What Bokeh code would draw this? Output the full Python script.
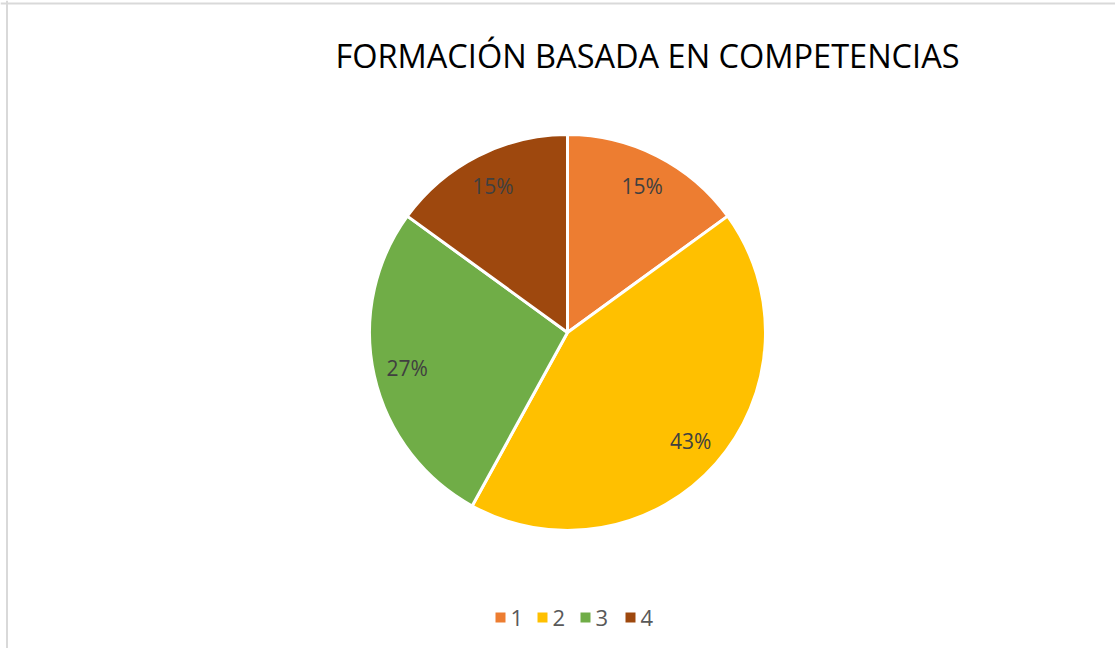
import numpy as np
from bokeh.plotting import figure
from bokeh.models import Span, Range1d
from bokeh.core.properties import value
from bokeh.embed import file_html
from bokeh.resources import INLINE

title = "FORMACIÓN BASADA EN COMPETENCIAS"
categories = ["1", "2", "3", "4"]
values = [15, 43, 27, 15]
colors = ["#ED7D31", "#FFC000", "#70AD47", "#9E480E"]

W, H = 1115, 648
p = figure(width=W, height=H, output_backend="svg", toolbar_location=None,
           x_range=Range1d(0, W), y_range=Range1d(0, H), min_border=0)
p.axis.visible = False
p.grid.visible = False
p.outline_line_color = None
p.background_fill_color = "white"

# border (left and top only visible)
p.add_layout(Span(location=6.5, dimension="height", line_color="#D9D9D9", line_width=2))
p.add_layout(Span(location=H - 3, dimension="width", line_color="#D9D9D9", line_width=2))

cx, cy, r = 567, H - 332, 198
vals = np.array(values, dtype=float)
frac = vals / vals.sum()
cum = np.concatenate([[0], np.cumsum(frac)])
start = np.pi / 2 - cum[:-1] * 2 * np.pi
end = np.pi / 2 - cum[1:] * 2 * np.pi
p.wedge(x=[cx] * 4, y=[cy] * 4, radius=r, start_angle=end, end_angle=start,
        fill_color=colors, line_color="white", line_width=3)

mid = (start + end) / 2
lr = 0.83 * r
labels = [f"{round(f*100)}%" for f in frac]
p.text(x=cx + lr * np.cos(mid), y=cy + lr * np.sin(mid), text=labels,
       text_align="center", text_baseline="middle", text_color="#404040",
       text_font=value("Open Sans"), text_font_size="21px")

p.text(x=[647], y=[H - 55], text=[title], text_align="center", text_baseline="middle",
       text_color="#000000", text_font=value("Open Sans"), text_font_size="32.5px")

# legend
lx = np.array([500, 542, 585, 630])
ly = H - 617
p.scatter(x=lx, y=[ly] * 4, marker="square", size=10, fill_color=colors, line_color=None)
p.text(x=lx + 10, y=[ly] * 4, text=categories, text_align="left", text_baseline="middle",
       text_color="#595959", text_font=value("Open Sans"), text_font_size="22px")

open("out.html", "w").write(file_html(p, INLINE))
